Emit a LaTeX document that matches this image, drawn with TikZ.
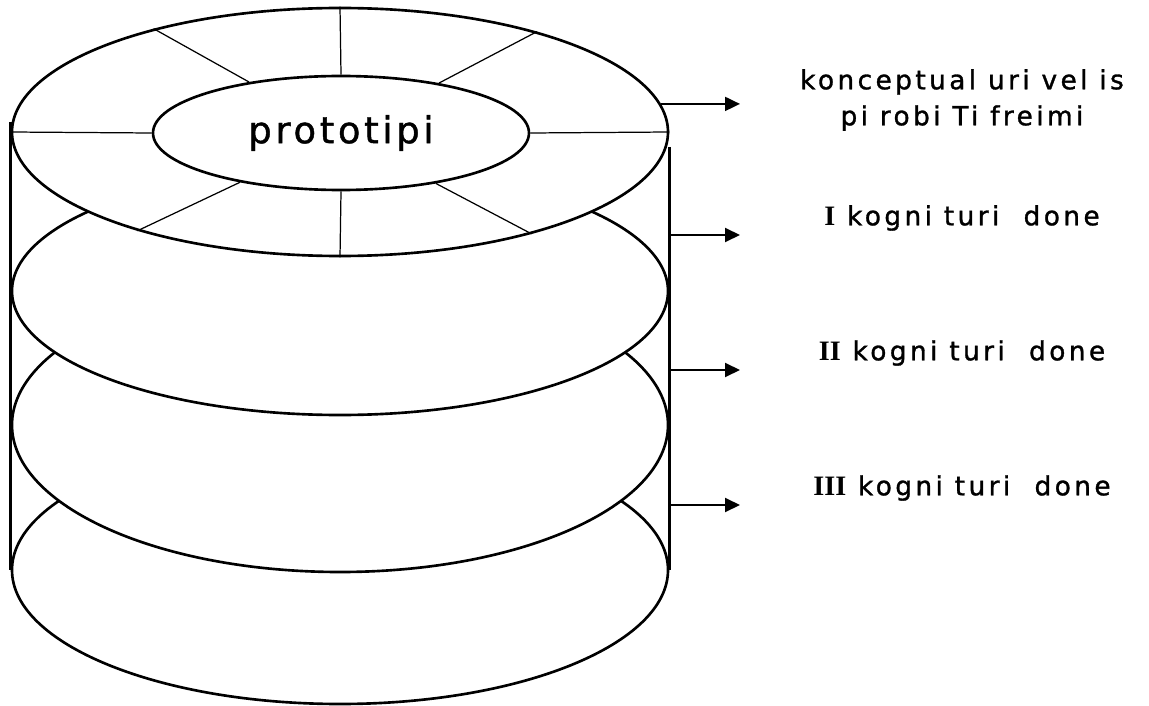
\documentclass[tikz,border=0pt]{standalone}
\usepackage{fontspec}
\usepackage{tikz}
\usetikzlibrary{shapes.geometric, positioning, arrows.meta}
\newfontfamily\protofont[LetterSpace=10,FakeBold=1.2]{DejaVu Sans}
\newfontfamily\layerfont[LetterSpace=13,FakeBold=1.2]{DejaVu Sans}
\newfontfamily\numfont{Liberation Serif}

\begin{document}
\begin{tikzpicture}[node distance=2.7cm,on grid,
        disc/.style={ellipse, draw, line width=1.5pt, fill=white, inner sep=0pt, minimum width=13.12cm},
        spoke/.style={line width=0.7pt},
        rim/.style={line width=1.5pt},
        pointer/.style={-{Triangle[length=0.3cm,width=0.28cm]}, line width=1.1pt},
        layer/.style={font=\fontsize{15}{20.5}\selectfont\layerfont, align=center}]
        \useasboundingbox (0,0) rectangle (22.98,-14.12);
        \node[disc, minimum height=5.36cm] (d4) at (6.8,-11.40) {};
        \node[disc, minimum height=5.88cm] (d3) at (6.8,-8.50) {};
        \node[disc, minimum height=4.96cm] (d2) at (6.8,-5.82) {};
        \node[disc, minimum height=4.96cm] (d1) at (6.8,-2.64) {};
        \node[disc, minimum width=7.52cm, minimum height=2.28cm,
                font=\fontsize{21}{24}\selectfont\protofont] (proto) at (6.82,-2.66) {prototipi};
        \foreach \a in {0,27,90,151,180,206,270,332}
                \draw[spoke] (proto.\a) -- (d1.\a);
        \draw[rim] (d1.west) ++(0,0.2) -- (d4.west);
        \draw[rim] (d1.east) ++(0,-0.3) -- (d4.east);

        \node[layer] (lbl1) at (19.24,-4.36) {{\fontsize{16}{20.5}\selectfont\numfont\bfseries I} kogni turi\hspace{0.25cm} done};
        \node[layer, below=of lbl1] (lbl2) {{\fontsize{16}{20.5}\selectfont\numfont\bfseries II} kogni turi\hspace{0.25cm} done};
        \node[layer, below=of lbl2] (lbl3) {{\fontsize{16}{20.5}\selectfont\numfont\bfseries III} kogni turi\hspace{0.25cm} done};
        \node[layer, above=2.36cm of lbl1] (lbl0) {konceptual uri vel is\\pi robi Ti freimi};

        \coordinate (tip) at (14.8,0);
        \coordinate (a2) at (13.4,-4.70);
        \coordinate (a3) at (13.4,-7.40);
        \coordinate (a4) at (13.4,-10.10);
        \draw[pointer] (d1.5) -- (d1.5 -| tip);
        \draw[pointer] (a2) -- (a2 -| tip);
        \draw[pointer] (a3) -- (a3 -| tip);
        \draw[pointer] (a4) -- (a4 -| tip);
\end{tikzpicture}
\end{document}
